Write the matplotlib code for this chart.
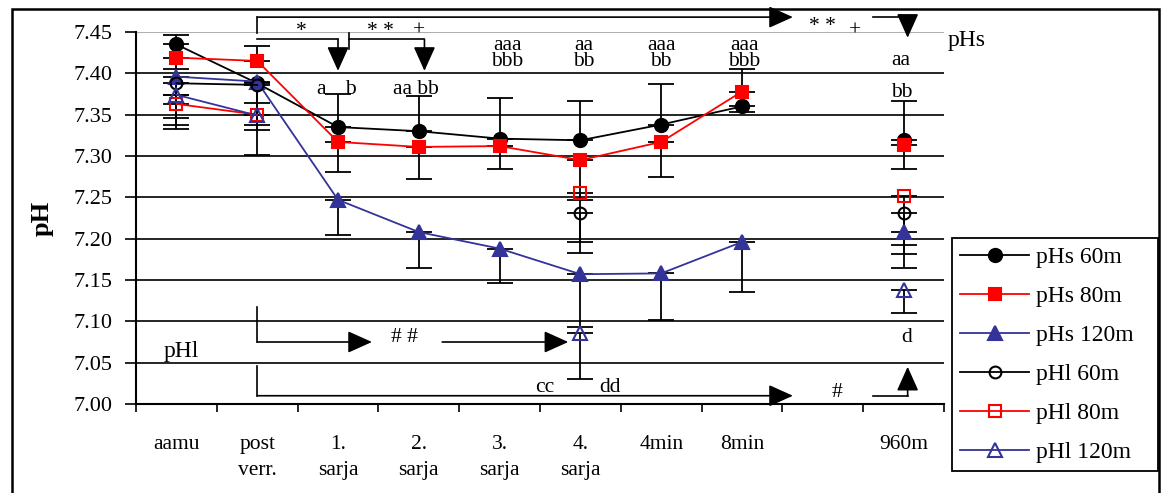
import numpy as np
import matplotlib.pyplot as plt
from matplotlib.patches import Rectangle

plt.rcParams['font.family'] = ['Liberation Serif', 'DejaVu Serif']

nan = np.nan

# categories (index 8 is an empty slot on the axis)
categories = ['aamu', 'post\nverr.', '1.\nsarja', '2.\nsarja', '3.\nsarja',
              '4.\nsarja', '4min', '8min', '', '960m']
x = np.arange(len(categories))

# pH values
phs_60 = [7.435, 7.388, 7.335, 7.330, 7.321, 7.319, 7.338, 7.360, nan, 7.319]
phs_80 = [7.419, 7.415, 7.317, 7.311, 7.312, 7.295, 7.317, 7.378, nan, 7.313]
phs_120 = [7.396, 7.390, 7.247, 7.208, 7.188, 7.157, 7.158, 7.196, nan, 7.208]
phl_60 = [7.388, 7.386, nan, nan, nan, 7.231, nan, nan, nan, 7.231]
phl_80 = [7.363, 7.350, nan, nan, nan, 7.255, nan, nan, nan, 7.252]
phl_120 = [7.374, 7.349, nan, nan, nan, 7.086, nan, nan, nan, 7.138]

# error bars (lower, upper)
phs_60_err = [[0, 0.087, 0, 0, 0, 0, 0, 0, 0, 0],
              [0.011, 0, 0.040, 0.043, 0.049, 0.047, 0.049, 0.045, 0, 0.047]]
phs_80_err = [[0.014, 0, 0.036, 0.039, 0.028, 0.048, 0.043, 0.025, 0, 0.029],
              [0, 0.018, 0, 0, 0, 0, 0, 0, 0, 0]]
phs_120_err = [[0.063, 0.052, 0.043, 0.043, 0.042, 0.064, 0.056, 0.060, 0, 0.043],
               [0, 0, 0, 0, 0, 0, 0, 0, 0, 0]]
phl_60_err = [[0.051, 0.055, 0, 0, 0, 0.035, 0, 0, 0, 0.039],
              [0, 0, 0, 0, 0, 0, 0, 0, 0, 0]]
phl_80_err = [[0.017, 0, 0, 0, 0, 0.072, 0, 0, 0, 0.071],
              [0, 0.014, 0, 0, 0, 0, 0, 0, 0, 0]]
phl_120_err = [[0, 0, 0, 0, 0, 0.056, 0, 0, 0, 0.028],
               [0, 0, 0, 0, 0, 0, 0, 0, 0, 0]]

blue = '#333399'
red = '#ff0000'

series = [
    ('pHs 60m', phs_60, phs_60_err, 'black', 'o', 'black', 9.5),
    ('pHs 80m', phs_80, phs_80_err, red, 's', red, 8.5),
    ('pHs 120m', phs_120, phs_120_err, blue, '^', blue, 9.5),
    ('pHl 60m', phl_60, phl_60_err, 'black', 'o', 'none', 8.5),
    ('pHl 80m', phl_80, phl_80_err, red, 's', 'none', 8.5),
    ('pHl 120m', phl_120, phl_120_err, blue, '^', 'none', 9.5),
]

fig = plt.figure(figsize=(11.62, 4.93), dpi=100)
ax = fig.add_axes([136 / 1162, 1 - 404 / 493, 808 / 1162, 372 / 493])

for yv in [7.05, 7.10, 7.15, 7.20, 7.25, 7.30, 7.35, 7.40]:
    ax.axhline(yv, color='black', lw=1.2, zorder=1)
ax.axhline(7.45, color='#b0b0b0', lw=0.8, zorder=1)

handles = []
for name, vals, err, col, mk, fc, ms in series:
    vals = np.array(vals)
    lo = np.array(err[0])
    hi = np.array(err[1])
    ok = ~np.isnan(vals)
    ax.errorbar(x[ok], vals[ok], yerr=[lo[ok], hi[ok]], fmt='none',
                ecolor='black', elinewidth=1.3, capsize=9.5, capthick=1.3, zorder=2)
    ln, = ax.plot(x, vals, color=col, lw=1.3, marker=mk, ms=ms,
                  markerfacecolor=fc, markeredgecolor=col, markeredgewidth=1.5,
                  zorder=3, label=name)
    handles.append(ln)

ax.set_xlim(-0.5, 9.5)
ax.set_ylim(7.0, 7.45)
ax.set_yticks(np.arange(7.0, 7.451, 0.05))
ax.set_yticklabels(['%.2f' % v for v in np.arange(7.0, 7.451, 0.05)], fontsize=16)
ax.set_xticks(np.arange(-0.5, 9.6, 1.0))
ax.set_xticklabels([])
ax.set_xticks(x, minor=True)
ax.set_xticklabels(categories, minor=True, fontsize=15.5, linespacing=1.5)
ax.tick_params(axis='x', which='major', length=6, width=1.2, direction='out')
ax.tick_params(axis='x', which='minor', length=0, pad=22)
ax.tick_params(axis='y', length=8, width=1.2, pad=9)
for s in ['top', 'right']:
    ax.spines[s].set_visible(False)
for s in ['left', 'bottom']:
    ax.spines[s].set_linewidth(1.5)
ax.set_ylabel('pH', fontsize=19, fontweight='bold', labelpad=14)


def arrow(p0, p1):
    ax.annotate('', xy=p1, xytext=p0, annotation_clip=False,
                arrowprops=dict(arrowstyle='-|>,head_length=1.0,head_width=0.45',
                                mutation_scale=15, color='black', lw=1.2,
                                shrinkA=0, shrinkB=0))


def seg(xs, ys):
    ax.plot(xs, ys, color='black', lw=1.2, clip_on=False, zorder=4)


txt = dict(fontsize=15.5, ha='center', va='center', zorder=5)

# pHs comparisons at the top
seg([1, 1], [7.449, 7.468])
arrow((1, 7.468), (7.63, 7.468))
ax.text(8.0, 7.457, '* *', **txt)
ax.text(8.4, 7.451, '+', **txt)
seg([8.62, 9.05], [7.468, 7.468])
arrow((9.05, 7.468), (9.05, 7.443))
ax.text(9.55, 7.440, 'pHs', fontsize=17, ha='left', va='center')

seg([1, 2], [7.441, 7.441])
arrow((2, 7.441), (2, 7.403))
ax.text(1.55, 7.450, '*', **txt)
seg([2.14, 2.14], [7.429, 7.449])
seg([2.14, 3.07], [7.441, 7.441])
arrow((3.07, 7.441), (3.07, 7.403))
ax.text(2.53, 7.450, '* *', **txt)
ax.text(3.0, 7.451, '+', **txt)

# letter marks
ax.text(1.79, 7.381, 'a', **txt)
ax.text(2.15, 7.381, 'b', **txt)
ax.text(2.97, 7.381, 'aa bb', **txt)
for xi, marks in [(4.1, 'aaa\nbbb'), (5.04, 'aa\nbb'),
                  (6.0, 'aaa\nbb'), (7.03, 'aaa\nbbb')]:
    ax.text(xi, 7.424, marks, linespacing=0.82, **txt)
ax.text(8.97, 7.415, 'aa', **txt)
ax.text(8.98, 7.377, 'bb', **txt)

# pHl comparisons at the bottom
ax.text(0.06, 7.051, 'pHl', fontsize=17, ha='center', va='bottom')
seg([1, 1], [7.075, 7.117])
arrow((1, 7.075), (2.42, 7.075))
ax.text(2.82, 7.081, '# #', **txt)
arrow((3.29, 7.075), (4.85, 7.075))
seg([1, 1], [7.010, 7.046])
arrow((1, 7.010), (7.63, 7.010))
ax.text(4.56, 7.020, 'cc', **txt)
ax.text(5.37, 7.020, 'dd', **txt)
ax.text(8.18, 7.014, '#', **txt)
seg([8.62, 9.05], [7.010, 7.010])
arrow((9.05, 7.010), (9.05, 7.045))
ax.text(9.04, 7.081, 'd', **txt)

leg = fig.legend(handles, [h.get_label() for h in handles], loc='upper left',
                 bbox_to_anchor=(952 / 1162, 1 - 470 / 493, 206 / 1162, 232 / 493),
                 mode='expand', borderaxespad=0, fontsize=17, handlelength=2.9,
                 labelspacing=0.74, borderpad=0.35, handletextpad=0.3,
                 fancybox=False, edgecolor='black', framealpha=1)
leg.get_frame().set_linewidth(1.3)

fig.patches.append(Rectangle((12 / 1162, -0.02), 1147 / 1162, 1.02 - 9 / 493,
                             transform=fig.transFigure, fill=False,
                             edgecolor='black', lw=1.8))

fig.savefig('out.png', dpi=100)
